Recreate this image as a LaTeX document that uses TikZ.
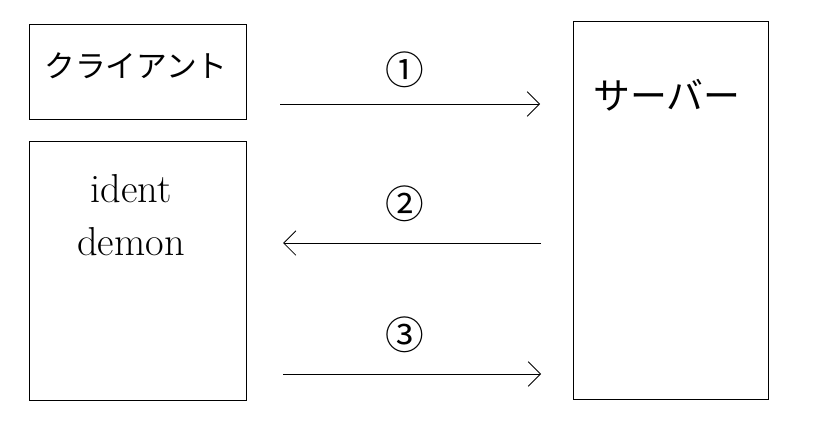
\documentclass[tikz,border=0pt]{standalone}
\usepackage{fontspec}
\usetikzlibrary{arrows.meta, positioning}
\newfontfamily\jpfont{Noto Sans CJK JP}

\begin{document}
\begin{tikzpicture}[x=0.02cm, y=-0.02cm,
    box/.style={rectangle, draw=black, line width=0.5pt, inner sep=0pt},
    lbl/.style={font=\fontsize{#1}{22pt}\selectfont\jpfont},
    num/.style={font=\fontsize{22pt}{24pt}\selectfont\jpfont},
    arr/.style={-{Straight Barb[length=7pt, width=14pt, line width=0.5pt]}, line width=0.5pt}
]
\useasboundingbox (0,0) rectangle (824,429);

% boxes
\node[box, minimum width=217*0.02cm, minimum height=95*0.02cm] (client) at (137.5,71.5) {};
\node[box, minimum width=217*0.02cm, minimum height=259*0.02cm] (ident) at (137.5,270.5) {};
\node[box, minimum width=195*0.02cm, minimum height=378*0.02cm] (server) at (670.5,210) {};

\node[lbl=17.5pt] (clienttxt) at (136,66) {クライアント};
\node[lbl=21pt] (servertxt) at (667,95) {サーバー};
\node[font=\fontsize{23pt}{30pt}\selectfont, align=center] (identtxt) at (131,215) {ident\\demon};

% arrow ends
\coordinate (a1s) at (280,104);
\coordinate (a1e) at (540,104);
\coordinate (a2s) at (541,243);
\coordinate (a2e) at (283,243);
\coordinate (a3s) at (283,374);
\coordinate (a3e) at (541,374);

\draw[arr] (a1s) -- (a1e);
\draw[arr] (a2s) -- (a2e);
\draw[arr] (a3s) -- (a3e);

\node[num] (n1) at (405,70) {①};
\node[num] (n2) at (405,204) {②};
\node[num] (n3) at (405,335) {③};
\end{tikzpicture}
\end{document}
